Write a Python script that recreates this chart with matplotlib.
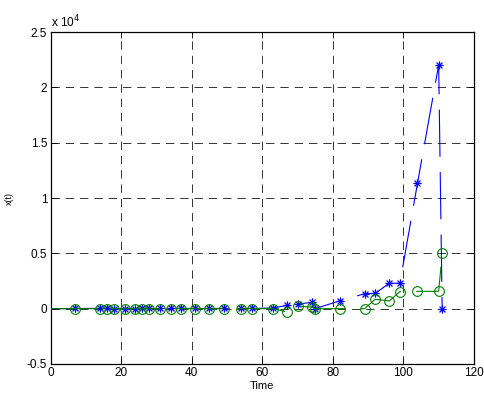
import matplotlib
matplotlib.use("Agg")
import numpy as np
import matplotlib.pyplot as plt
from matplotlib.path import Path
from matplotlib.ticker import FuncFormatter

plt.rcParams['font.family'] = ['Liberation Sans', 'DejaVu Sans']
plt.rcParams['lines.scale_dashes'] = False

# time stamps and the two series
t = [0, 7, 14, 16, 18, 21, 24, 26, 28, 31, 34, 37, 41, 45, 49, 54, 57, 63,
     67, 70, 74, 75, 82, 89, 92, 96, 99, 104, 110, 111]
x_blue = [0, 20, 30, 30, 10, 0, 0, 20, 20, 20, 30, 30, 20, 20, 30, 20, 20, 60,
          300, 420, 570, 0, 720, 1350, 1380, 2300, 2300, 11340, 22030, 0]
x_green = [0, 0, 0, 0, 0, 0, 0, 0, 0, 0, 0, 0, 0, 0, 0, 0, 0, 0,
           -300, 220, 150, 0, 0, 0, 850, 700, 1540, 1570, 1570, 5000]

xticks = [0, 20, 40, 60, 80, 100, 120]
yticks = [-5000, 0, 5000, 10000, 15000, 20000, 25000]

# matlab-style asterisk: plus + cross made of open strokes
d = np.sqrt(0.5)
star = Path([(0, -1), (0, 1), (-1, 0), (1, 0), (-d, -d), (d, d), (-d, d), (d, -d)],
            [Path.MOVETO, Path.LINETO] * 4)

fig = plt.figure(figsize=(4.84, 4.01), dpi=100)
ax = fig.add_axes([0.1047, 0.0923, 0.8745, 0.8274])

dash = (0, (34, 11))
marks = range(1, len(t))
ax.plot(t, x_blue, color=(0, 0, 1), linestyle=dash, linewidth=0.8,
        marker=star, markersize=6, markerfacecolor='none', markeredgewidth=0.9,
        markevery=marks, zorder=3)
ax.plot(t, x_green, color=(0, 0.5, 0), linestyle=dash, linewidth=0.8,
        marker='o', markersize=7, markerfacecolor='none', markevery=marks,
        markeredgewidth=0.8, zorder=3)

ax.set_xlim(0, 120)
ax.set_ylim(-5000, 25000)
ax.set_xticks(xticks)
ax.set_yticks(yticks)
ax.yaxis.set_major_formatter(FuncFormatter(lambda v, p: f'{v / 1e4:g}'))
ax.grid(True, color='#333333', linestyle=(0, (6, 4.3)), linewidth=0.7)
ax.tick_params(direction='in', top=True, right=True, labelsize=8.5, length=4,
               width=0.6, pad=2.5)
for s in ax.spines.values():
    s.set_linewidth(0.9)

ax.text(0.0, 1.005, r'x 10$^4$', transform=ax.transAxes, fontsize=8.5,
        ha='left', va='bottom')
ax.set_xlabel('Time', fontsize=8, labelpad=1)
ax.set_ylabel('x(t)', fontsize=6.5, labelpad=9)

fig.savefig('out.png', dpi=100)
